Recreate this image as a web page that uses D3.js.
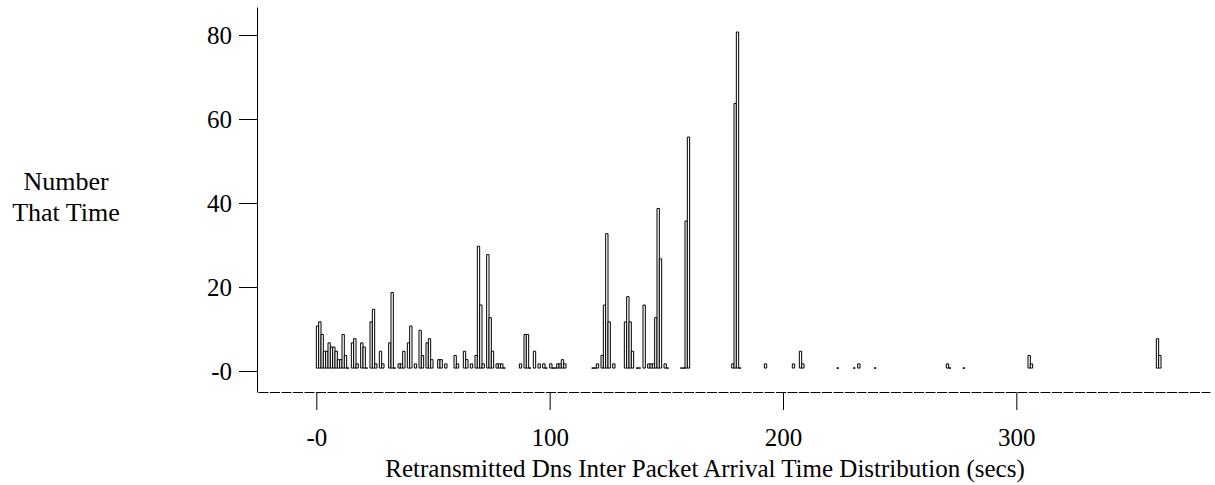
<!DOCTYPE html>
<html>
<head>
<meta charset="utf-8">
<script src="https://cdn.jsdelivr.net/npm/d3@7"></script>
<style>
  body { margin: 0; background: #fff; }
  svg text { font-family: "Liberation Serif", "Times New Roman", serif; fill: #000; }
  .bar { fill: #fff; stroke: #000; stroke-width: 1; }
  .axis path, .axis line { stroke: #000; stroke-width: 1; }
</style>
</head>
<body>
<script>
// seconds (bin start) and how many packets fell in that bin
var seconds = [0, 1, 2, 3, 4, 5, 6, 7, 8, 9, 10, 11, 12, 13, 15, 16, 17, 19, 20, 21,
  23, 24, 25, 27, 28, 31, 32, 33, 35, 36, 37, 39, 40, 42, 44, 45, 47, 48, 49, 52,
  53, 55, 59, 60, 63, 64, 66, 68, 69, 70, 71, 73, 74, 75, 77, 78, 79, 80, 87, 89,
  90, 91, 93, 95, 97, 98, 100, 101, 102, 103, 104, 105, 106, 118, 119, 120, 122, 123, 124, 125,
  127, 132, 133, 134, 135, 137, 138, 140, 142, 143, 144, 145, 146, 147, 149, 150, 156, 157, 158, 159,
  178, 179, 180, 181, 192, 204, 207, 208, 223, 230, 232, 239, 270, 271, 277, 305, 306, 360, 361];
var counts = [10, 11, 8, 4, 4, 6, 5, 5, 4, 2, 2, 8, 3, 0, 6, 7, 1, 6, 5, 0,
  11, 14, 1, 4, 1, 6, 18, 0, 1, 1, 4, 6, 10, 1, 9, 3, 6, 7, 2, 2,
  2, 1, 3, 1, 4, 2, 1, 3, 29, 15, 1, 27, 12, 4, 1, 1, 1, 0, 1, 8,
  8, 0, 4, 1, 1, 0, 1, 0, 0, 1, 1, 2, 1, 0, 0, 1, 3, 15, 32, 11,
  1, 11, 17, 11, 4, 0, 0, 15, 1, 1, 1, 12, 38, 26, 1, 0, 0, 0, 35, 55,
  1, 63, 80, 0, 1, 1, 4, 1, 0, 0, 1, 0, 1, 0, 0, 3, 1, 7, 3];

var yTicks = [0, 20, 40, 60, 80];
var xTicks = [0, 100, 200, 300];
var barBase = 0.7;   // bars sit a little above the zero tick

var width = 1215, height = 485;

var svg = d3.select("body").append("svg")
    .attr("width", width)
    .attr("height", height);

// schalen
var x = d3.scaleLinear().domain([-25, 383]).range([258, 1210]);
var y = d3.scaleLinear().domain([-5, 86.667]).range([392, 7]);

var data = seconds.map(function(s, i) { return {sec: s, n: counts[i]}; });

// balken als gesloten paden, zodat een lege bak een streepje wordt
svg.append("g").selectAll("path")
    .data(data)
  .enter().append("path")
    .attr("class", "bar")
    .attr("d", function(d) {
      var x0 = x(d.sec), x1 = x(d.sec + 1);
      var yb = y(barBase), yt = y(d.n + barBase);
      return "M" + x0 + "," + yb + "L" + x0 + "," + yt + "L" + x1 + "," + yt + "L" + x1 + "," + yb + "Z";
    });

// y as
var yAxis = svg.append("g")
    .attr("class", "axis")
    .attr("transform", "translate(257,0)")
    .call(d3.axisLeft(y)
      .tickValues(yTicks)
      .tickSize(18)
      .tickSizeOuter(0)
      .tickPadding(7)
      .tickFormat(function(d) { return d === 0 ? "-0" : d; }));
yAxis.selectAll("text").style("font-size", "25px");

// x as, gestippeld
var xAxis = svg.append("g")
    .attr("class", "axis")
    .attr("transform", "translate(0,392)")
    .call(d3.axisBottom(x)
      .tickValues(xTicks)
      .tickSize(18)
      .tickSizeOuter(0)
      .tickPadding(18)
      .tickFormat(function(d) { return d === 0 ? "-0" : d; }));
xAxis.select(".domain").style("stroke-dasharray", "10,1.5");
xAxis.selectAll("text").style("font-size", "25px");

// titels
svg.append("text")
    .attr("x", 705)
    .attr("y", 477)
    .attr("text-anchor", "middle")
    .style("font-size", "25px")
    .text("Retransmitted Dns Inter Packet Arrival Time Distribution (secs)");

svg.append("text")
    .attr("x", 66)
    .attr("y", 190)
    .attr("text-anchor", "middle")
    .style("font-size", "26px")
    .text("Number");

svg.append("text")
    .attr("x", 66)
    .attr("y", 221)
    .attr("text-anchor", "middle")
    .style("font-size", "26px")
    .text("That Time");
</script>
</body>
</html>
